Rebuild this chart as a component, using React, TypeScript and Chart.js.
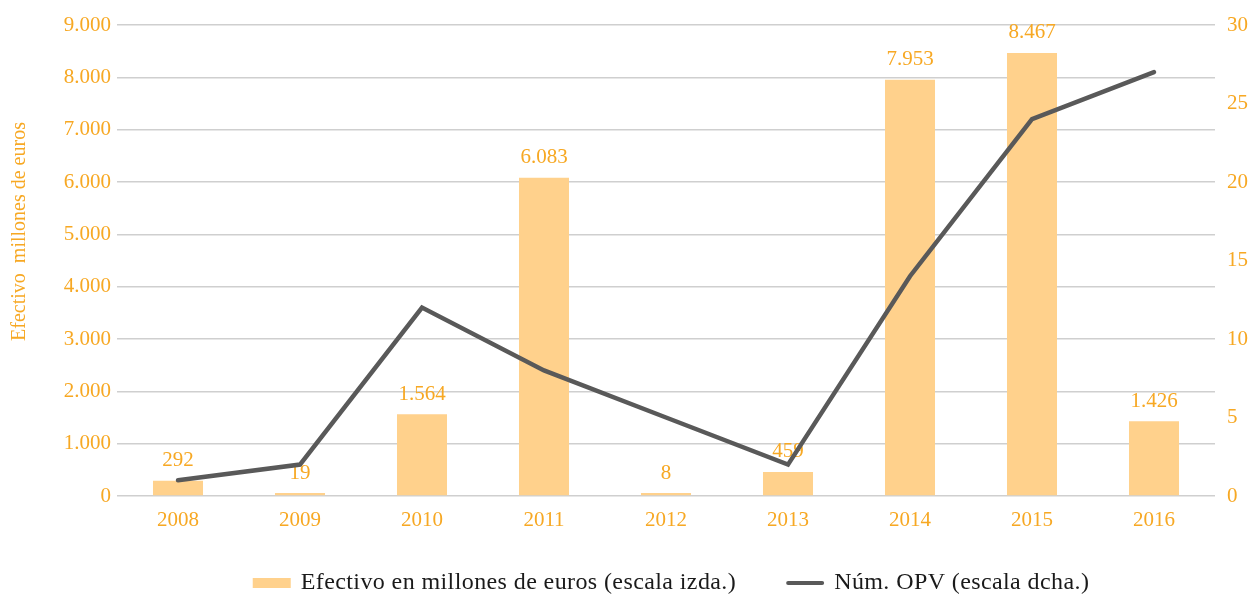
import React, { useEffect, useRef } from "react";
import { Chart, registerables } from "chart.js";

Chart.register(...registerables);

const years = ["2008", "2009", "2010", "2011", "2012", "2013", "2014", "2015", "2016"];
const efectivo = [292, 19, 1564, 6083, 8, 459, 7953, 8467, 1426];
const numOPV = [1, 2, 12, 8, 5, 2, 14, 24, 27];
const leftTicksMax = 9000;
const rightTicksMax = 30;
const legendLabels = ["Efectivo en millones de euros (escala izda.)", "Núm. OPV (escala dcha.)"];
const yTitle = "Efectivo  millones de euros";

const ORANGE = "#F7A823";
const BAR = "#FFD18C";
const LINE = "#595959";
const FONT = "'Liberation Serif', 'DejaVu Serif', serif";

const fmt = (v: number) => String(v).replace(/\B(?=(\d{3})+(?!\d))/g, ".");

const extrasPlugin = {
  id: "extras",
  afterDatasetDraw(chart: any, args: any) {
    if (args.index !== 0) return;
    const { ctx } = chart;
    const meta = chart.getDatasetMeta(0);
    ctx.save();
    ctx.fillStyle = ORANGE;
    ctx.font = `21px ${FONT}`;
    ctx.textAlign = "center";
    ctx.textBaseline = "middle";
    meta.data.forEach((el: any, i: number) => {
      ctx.fillText(fmt(efectivo[i]), el.x, el.y - 20);
    });
    ctx.restore();
  },
  afterDraw(chart: any) {
    const { ctx, chartArea } = chart;
    ctx.save();
    // y title
    ctx.fillStyle = ORANGE;
    ctx.font = `20px ${FONT}`;
    ctx.textAlign = "center";
    ctx.textBaseline = "middle";
    ctx.translate(20, (chartArea.top + chartArea.bottom) / 2 - 29);
    ctx.rotate(-Math.PI / 2);
    ctx.fillText(yTitle, 0, 0);
    ctx.restore();

    // legend
    ctx.save();
    ctx.font = `24px ${FONT}`;
    (ctx as any).letterSpacing = "0.4px";
    ctx.textBaseline = "middle";
    ctx.textAlign = "left";
    const sw = 38;
    const gap = 10;
    const itemGap = 50;
    const w1 = ctx.measureText(legendLabels[0]).width;
    const w2 = ctx.measureText(legendLabels[1]).width;
    const total = sw + gap + w1 + itemGap + sw + gap + w2;
    const cy = 583;
    let x = (chartArea.left + chartArea.right) / 2 + 5 - total / 2;
    ctx.fillStyle = BAR;
    ctx.fillRect(x, cy - 5, sw, 10);
    x += sw + gap;
    ctx.fillStyle = "#1a1a1a";
    ctx.fillText(legendLabels[0], x, cy);
    x += w1 + itemGap;
    ctx.strokeStyle = LINE;
    ctx.lineWidth = 4;
    ctx.lineCap = "round";
    ctx.beginPath();
    ctx.moveTo(x + 2, cy);
    ctx.lineTo(x + sw - 2, cy);
    ctx.stroke();
    x += sw + gap;
    ctx.fillText(legendLabels[1], x, cy);
    ctx.restore();
  },
};

export default function App() {
  const ref = useRef<HTMLCanvasElement>(null);
  useEffect(() => {
    document.body.style.margin = "0";
    const chart = new Chart(ref.current!, {
      type: "bar",
      data: {
        labels: years,
        datasets: [
          {
            type: "bar",
            label: legendLabels[0],
            data: efectivo,
            backgroundColor: BAR,
            yAxisID: "y",
            order: 2,
            barPercentage: 0.41,
            categoryPercentage: 1,
            minBarLength: 3,
          },
          {
            type: "line",
            label: legendLabels[1],
            data: numOPV,
            borderColor: LINE,
            backgroundColor: LINE,
            borderWidth: 4.5,
            borderCapStyle: "round",
            borderJoinStyle: "miter",
            pointRadius: 0,
            tension: 0,
            yAxisID: "y1",
            order: 1,
          } as any,
        ],
      },
      options: {
        animation: false,
        responsive: false,
        maintainAspectRatio: false,
        layout: { padding: { top: 25, left: 0, right: 0, bottom: 0 } },
        plugins: { legend: { display: false }, tooltip: { enabled: false } },
        scales: {
          x: {
            grid: { display: false },
            border: { display: false },
            ticks: { color: ORANGE, font: { family: FONT, size: 21 }, padding: 4 },
            afterFit: (s: any) => {
              s.height = 99;
            },
          },
          y: {
            position: "left",
            min: 0,
            max: leftTicksMax,
            grid: { color: "#cfcfcf", lineWidth: 1.5, drawTicks: false },
            border: { display: false },
            ticks: {
              stepSize: 1000,
              color: ORANGE,
              font: { family: FONT, size: 21 },
              padding: 6,
              callback: (v: any) => fmt(Number(v)),
            },
            afterFit: (s: any) => {
              s.width = 117;
            },
          },
          y1: {
            position: "right",
            min: 0,
            max: rightTicksMax,
            grid: { display: false, drawTicks: false },
            border: { display: false },
            ticks: {
              stepSize: 5,
              color: ORANGE,
              font: { family: FONT, size: 21 },
              padding: 12,
            },
            afterFit: (s: any) => {
              s.width = 34;
            },
          },
        },
      },
      plugins: [extrasPlugin],
    });
    return () => chart.destroy();
  }, []);
  return (
    <div style={{ width: 1249, height: 595 }}>
      <canvas ref={ref} width={1249} height={595} style={{ display: "block" }} />
    </div>
  );
}
